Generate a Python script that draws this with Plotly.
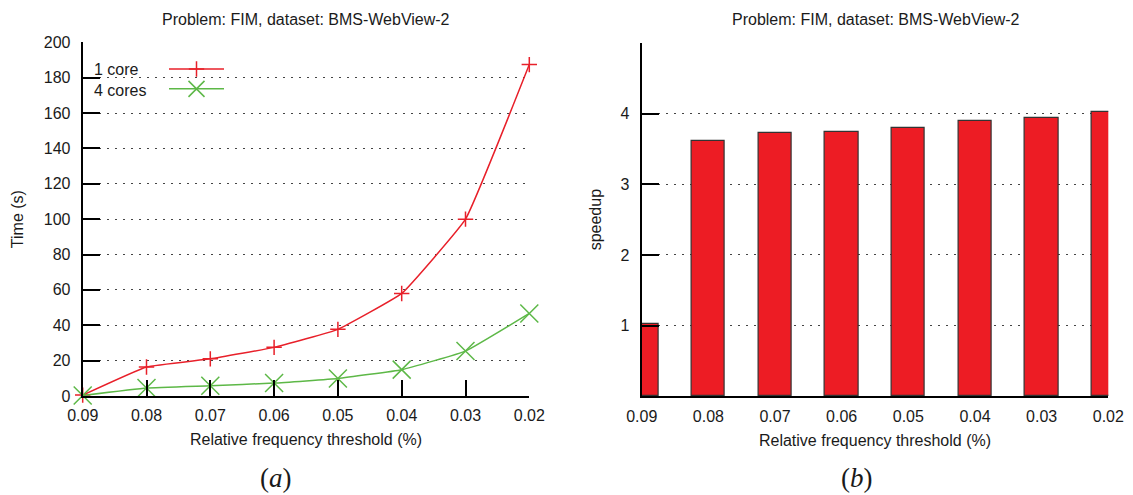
import plotly.graph_objects as go

thresholds = [0.09, 0.08, 0.07, 0.06, 0.05, 0.04, 0.03, 0.02]
tick_labels = ["0.09", "0.08", "0.07", "0.06", "0.05", "0.04", "0.03", "0.02"]
time_1core = [0.5, 16.4, 21.0, 27.5, 37.7, 58.0, 100.0, 187.4]
time_4cores = [0.3, 4.5, 5.8, 7.3, 9.9, 14.9, 25.4, 46.7]
speedup = [1.02, 3.61, 3.72, 3.745, 3.80, 3.89, 3.94, 4.03]
series_names = ["1 core", "4 cores"]

RED = "#E8202A"
GREEN = "#5DB847"
BAR_RED = "#ED1C24"
FONT = "Liberation Sans, Arial, sans-serif"
W, H = 1133, 495


def px_x(v):
    return v / W


def px_y(v):
    return 1 - v / H


fig = go.Figure()

fig.add_trace(go.Scatter(
    x=thresholds, y=time_1core, name=" ", mode="lines+markers",
    line=dict(color=RED, width=1.5, shape="spline", smoothing=0.3),
    marker=dict(symbol="cross-thin", size=11, color=RED, line=dict(color=RED, width=1.5)),
    cliponaxis=False, xaxis="x", yaxis="y",
))
fig.add_trace(go.Scatter(
    x=thresholds, y=time_4cores, name="  ", mode="lines+markers",
    line=dict(color=GREEN, width=1.5, shape="spline", smoothing=0.3),
    marker=dict(symbol="x-thin", size=18, color=GREEN, line=dict(color=GREEN, width=1.5)),
    cliponaxis=False, xaxis="x", yaxis="y",
))
fig.add_trace(go.Bar(
    x=thresholds, y=speedup, width=0.005, showlegend=False,
    marker=dict(color=BAR_RED, line=dict(color="#333333", width=1.2)),
    xaxis="x2", yaxis="y2",
))

axis_common = dict(
    showline=True, linecolor="black", linewidth=2, mirror=False,
    tickfont=dict(family=FONT, size=16, color="#1a1a1a"),
    zeroline=False, automargin=False,
)
TITLE_FONT = dict(family=FONT, size=16, color="#1a1a1a")

fig.update_layout(
    width=W, height=H,
    margin=dict(l=0, r=0, t=0, b=0),
    paper_bgcolor="white", plot_bgcolor="white",
    font=dict(family=FONT, size=16, color="#1a1a1a"),
    showlegend=True,
    legend=dict(
        x=px_x(164), y=px_y(54), xanchor="left", yanchor="top",
        bgcolor="rgba(0,0,0,0)", borderwidth=0, itemwidth=55,
        font=dict(family=FONT, size=13), tracegroupgap=0,
    ),
    xaxis=dict(
        **axis_common,
        domain=[px_x(82.7), px_x(529.3)],
        range=[0.09, 0.02],
        tickvals=thresholds, ticktext=tick_labels,
        ticks="inside", ticklen=16, tickwidth=2, tickcolor="black",
        showgrid=False, ticklabelstandoff=4,
        title=dict(text="Relative frequency threshold (%)", font=TITLE_FONT, standoff=11),
        anchor="y",
    ),
    yaxis=dict(
        **axis_common,
        domain=[px_y(396), px_y(42.3)],
        range=[0, 200], dtick=20,
        ticks="inside", ticklen=17, tickwidth=2, tickcolor="black",
        showgrid=True, gridcolor="#444", gridwidth=1, griddash="2px,6px",
        ticklabelstandoff=7,
        title=dict(text="Time (s)", font=TITLE_FONT, standoff=16),
        anchor="x",
    ),
    xaxis2=dict(
        **axis_common,
        domain=[px_x(641.7), px_x(1108.3)],
        range=[0.09, 0.02],
        tickvals=thresholds, ticktext=tick_labels,
        ticks="", showgrid=False, ticklabelstandoff=4,
        title=dict(text="Relative frequency threshold (%)", font=TITLE_FONT, standoff=11),
        anchor="y2",
    ),
    yaxis2=dict(
        **axis_common,
        domain=[px_y(396.3), px_y(43)],
        range=[0, 5], tickvals=[1, 2, 3, 4],
        ticks="inside", ticklen=17, tickwidth=2, tickcolor="black",
        showgrid=True, gridcolor="#444", gridwidth=1, griddash="2px,6px",
        ticklabelstandoff=7,
        title=dict(text="speedup", font=TITLE_FONT, standoff=15),
        anchor="x2",
    ),
    bargap=0,
)

# white backing behind the key so the grid line under it is hidden (as in the original)
fig.add_shape(type="rect", xref="paper", yref="paper", layer="between",
              x0=px_x(100), x1=px_x(234), y0=px_y(98), y1=px_y(60),
              fillcolor="white", line=dict(width=0))

annotations = [
    dict(text="Problem: FIM, dataset: BMS-WebView-2", x=px_x(306), y=px_y(19),
         xref="paper", yref="paper", xanchor="center", yanchor="middle",
         showarrow=False, font=TITLE_FONT),
    dict(text="Problem: FIM, dataset: BMS-WebView-2", x=px_x(876), y=px_y(19),
         xref="paper", yref="paper", xanchor="center", yanchor="middle",
         showarrow=False, font=TITLE_FONT),
    dict(text="(<i>a</i>)", x=px_x(276), y=px_y(478), xref="paper", yref="paper",
         xanchor="center", yanchor="middle", showarrow=False,
         font=dict(family="Liberation Serif, serif", size=27, color="#1a1a1a")),
    dict(text="(<i>b</i>)", x=px_x(857), y=px_y(478), xref="paper", yref="paper",
         xanchor="center", yanchor="middle", showarrow=False,
         font=dict(family="Liberation Serif, serif", size=27, color="#1a1a1a")),
]
legend_y = [69.7, 90.3]
for name, yy in zip(series_names, legend_y):
    annotations.append(dict(text=name, x=px_x(92), y=px_y(yy), xref="paper", yref="paper",
                            xanchor="left", yanchor="middle", showarrow=False,
                            font=TITLE_FONT))
fig.update_layout(annotations=annotations)

fig.write_html("out.html", config={"displayModeBar": False},
               post_script="document.body.style.margin='0';")
